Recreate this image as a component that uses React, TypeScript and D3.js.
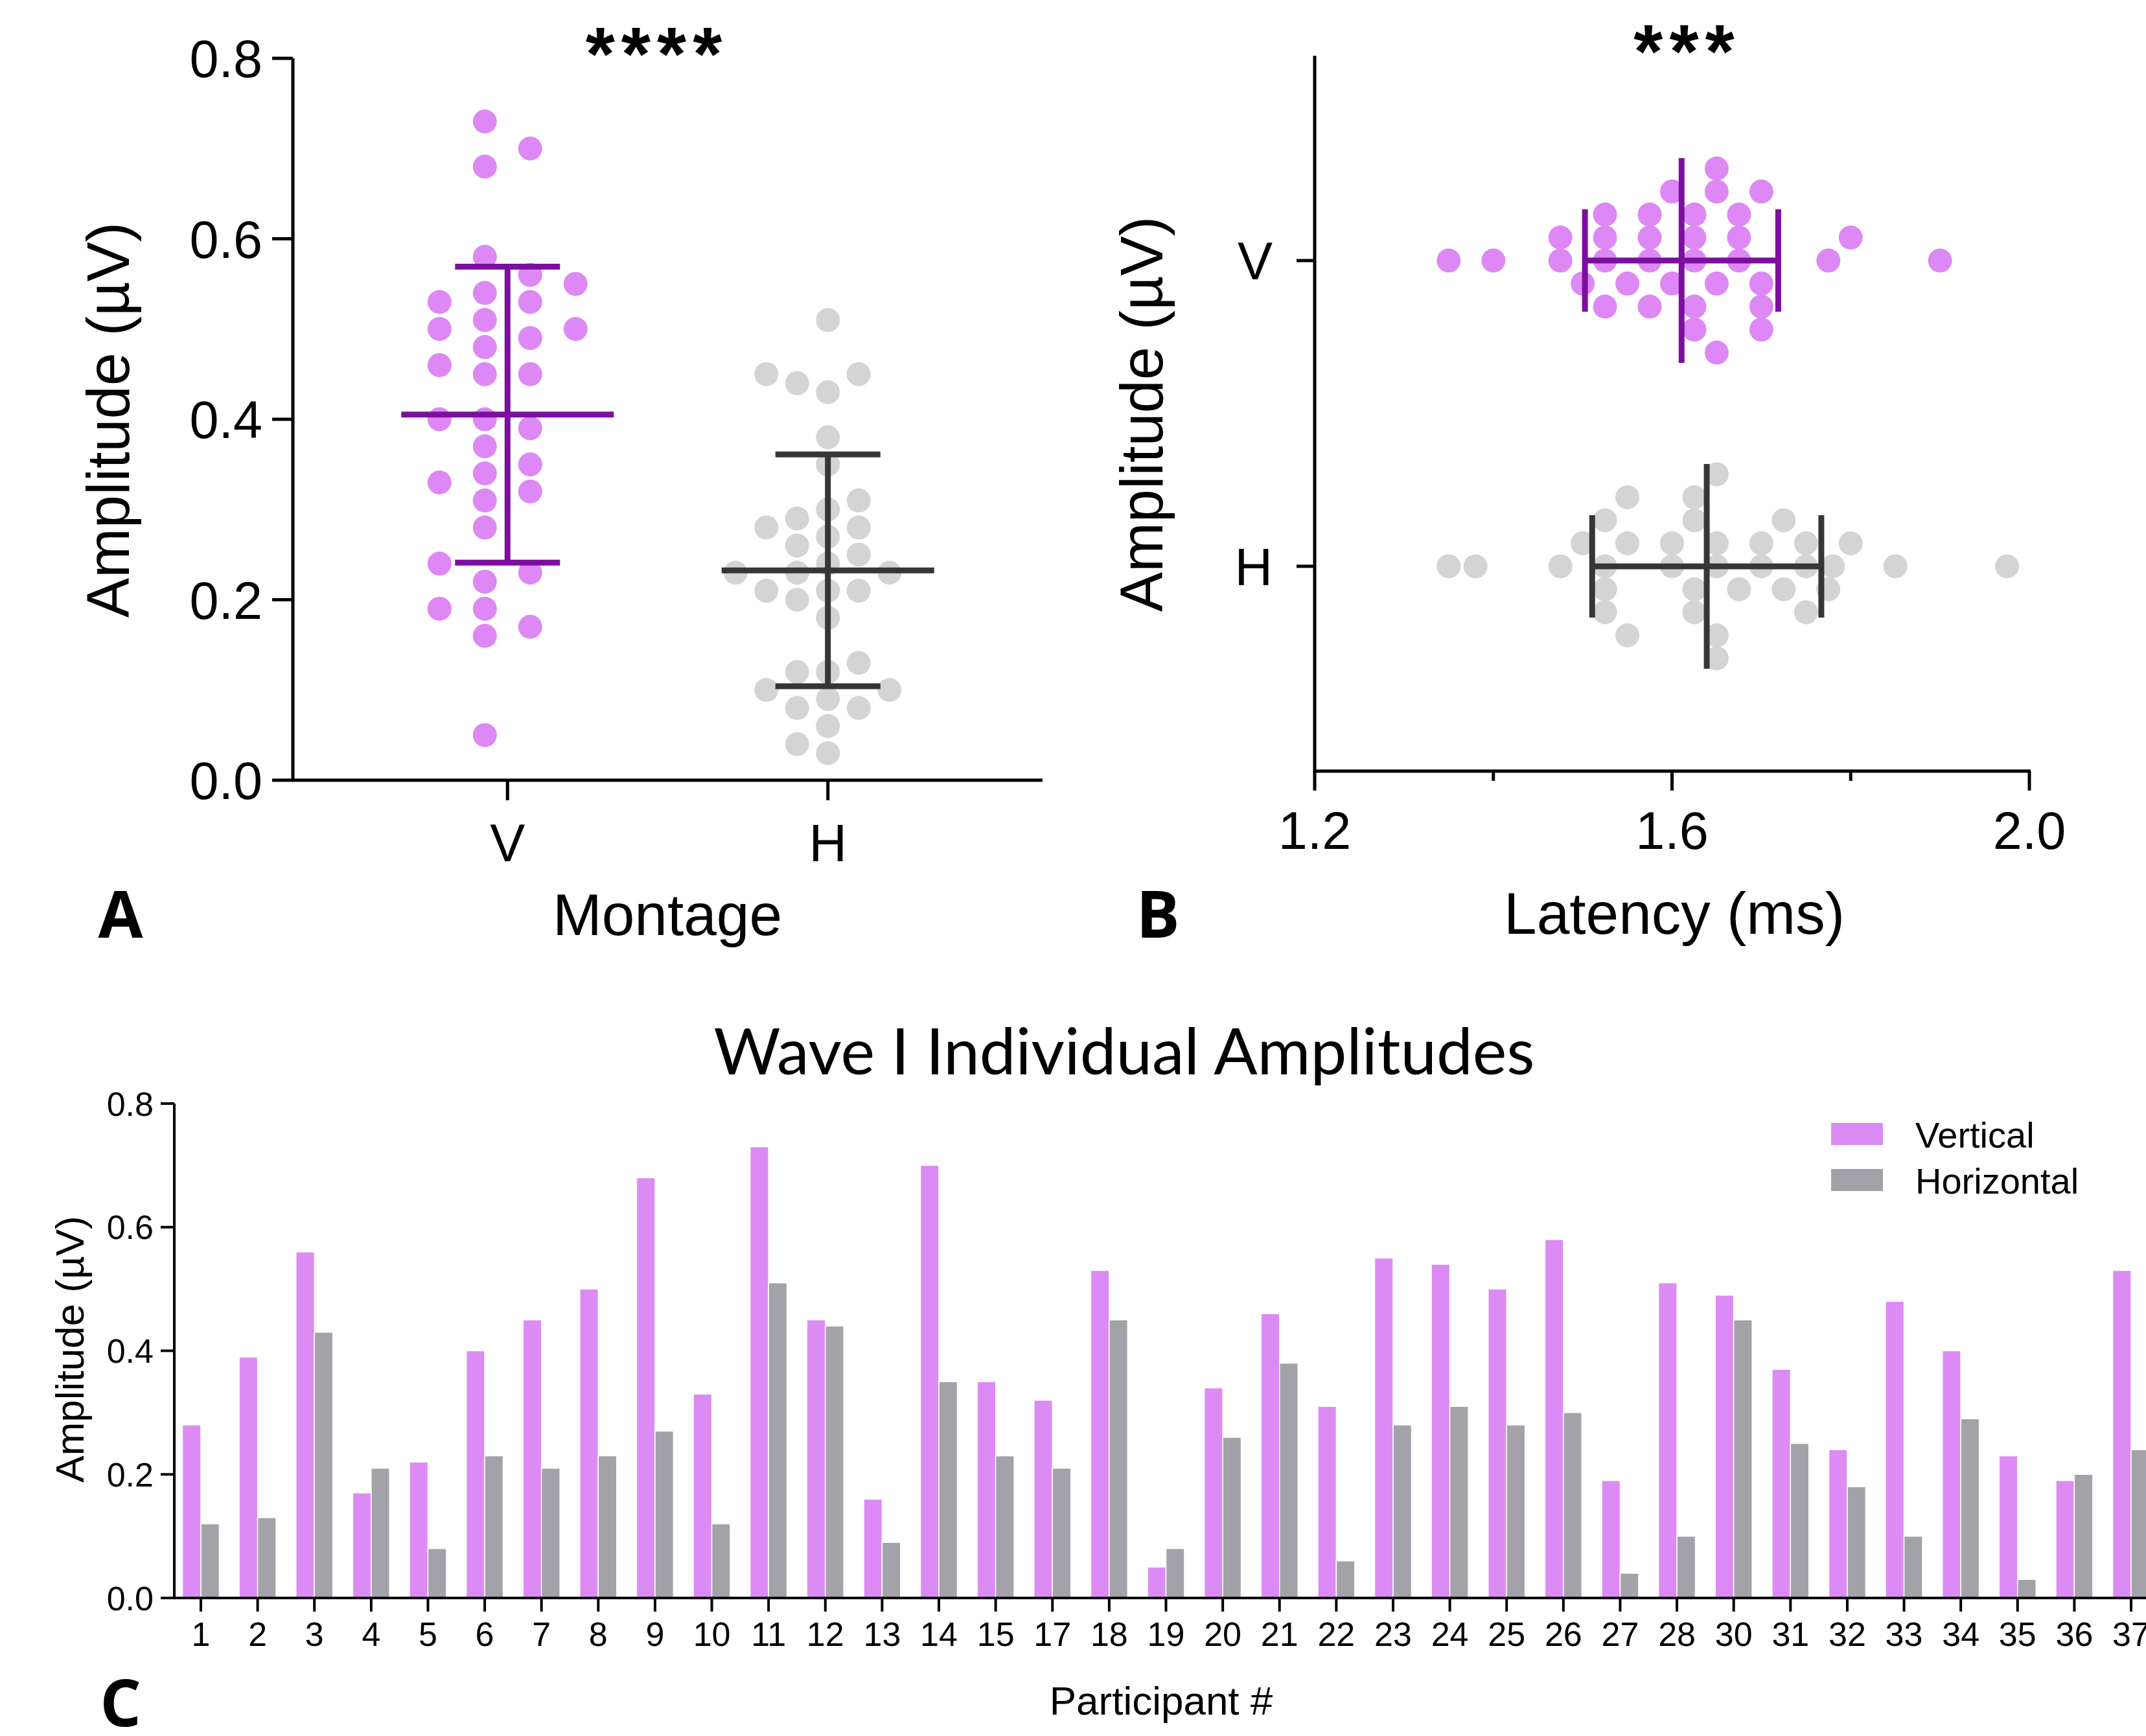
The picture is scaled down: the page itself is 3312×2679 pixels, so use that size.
import React from 'react';
import * as d3 from 'd3';

// Participant numbers (16 and 29 are missing in the source figure)
const participants = [
  '1', '2', '3', '4', '5', '6', '7', '8', '9', '10', '11', '12', '13', '14', '15', '17', '18', '19',
  '20', '21', '22', '23', '24', '25', '26', '27', '28', '30', '31', '32', '33', '34', '35', '36', '37',
];
// Wave I amplitudes (µV) per participant
const ampVertical = [
  0.28, 0.39, 0.56, 0.17, 0.22, 0.4, 0.45, 0.5, 0.68, 0.33, 0.73, 0.45, 0.16, 0.7, 0.35, 0.32, 0.53, 0.05,
  0.34, 0.46, 0.31, 0.55, 0.54, 0.5, 0.58, 0.19, 0.51, 0.49, 0.37, 0.24, 0.48, 0.4, 0.23, 0.19, 0.53,
];
const ampHorizontal = [
  0.12, 0.13, 0.43, 0.21, 0.08, 0.23, 0.21, 0.23, 0.27, 0.12, 0.51, 0.44, 0.09, 0.35, 0.23, 0.21, 0.45, 0.08,
  0.26, 0.38, 0.06, 0.28, 0.31, 0.28, 0.3, 0.04, 0.1, 0.45, 0.25, 0.18, 0.1, 0.29, 0.03, 0.2, 0.24,
];
// Wave I latencies (ms)
const latVertical = [
  1.35, 1.4, 1.475, 1.475, 1.5, 1.525, 1.525, 1.525, 1.525, 1.55, 1.575, 1.575, 1.575, 1.575, 1.6, 1.6,
  1.625, 1.625, 1.625, 1.625, 1.625, 1.65, 1.65, 1.65, 1.65, 1.675, 1.675, 1.675, 1.7, 1.7, 1.7, 1.7,
  1.775, 1.8, 1.9,
];
const latHorizontal = [
  1.35, 1.38, 1.475, 1.5, 1.525, 1.525, 1.525, 1.525, 1.55, 1.55, 1.55, 1.6, 1.6, 1.625, 1.625, 1.625,
  1.625, 1.65, 1.65, 1.65, 1.65, 1.65, 1.675, 1.7, 1.7, 1.725, 1.725, 1.75, 1.75, 1.75, 1.775, 1.78,
  1.8, 1.85, 1.975,
];
const montages = ['V', 'H'];
const ampTicks = [0, 0.2, 0.4, 0.6, 0.8];
const latTicks = [1.2, 1.4, 1.6, 1.8, 2.0];
const latLabels = [1.2, 1.6, 2.0];

const PINK = '#DD88F5';
const PURPLE = '#7B0F9E';
const LIGHT = '#D4D4D4';
const DARK = '#363636';
const BAR_V = '#DC8BF5';
const BAR_H = '#A3A2A8';
const ARIAL = "'Liberation Sans', Arial, sans-serif";
const BOLD = "'Open Sans', sans-serif";
const R = 18.5;

// greedy beeswarm: place each point at the first offset that does not overlap
function swarm(values: number[], pos: (v: number) => number, offsets: number[], minDist: number) {
  const order = values.map((_, i) => i).sort((a, b) => values[a] - values[b]);
  const placed: { p: number; o: number }[] = [];
  const out: { p: number; o: number }[] = new Array(values.length);
  for (const i of order) {
    const p = pos(values[i]);
    for (const o of offsets) {
      if (placed.every((q) => Math.hypot(q.p - p, q.o - o) >= minDist)) {
        placed.push({ p, o });
        out[i] = { p, o };
        break;
      }
    }
  }
  return out;
}

const fmt = d3.format('.1f');

const PanelA = () => {
  const y = d3.scaleLinear().domain([0, 0.8]).range([1204, 90]);
  const x = d3.scalePoint().domain(montages).range([452, 1609]).padding(0.67);
  const groups = [
    { key: 'V', vals: ampVertical, fill: PINK, line: PURPLE,
      lanes: [-0.5, 0.5, -1.5, 1.5, -2.5, 2.5, -3.5, 3.5].map((d) => d * 70) },
    { key: 'H', vals: ampHorizontal, fill: LIGHT, line: DARK,
      lanes: [0, -1, 1, -2, 2, -3, 3, -4, 4].map((d) => d * 47.5) },
  ];
  return (
    <g>
      {groups.map((g) => {
        const cx = x(g.key) as number;
        const pts = swarm(g.vals, y, g.lanes, 37);
        const m = d3.mean(g.vals) as number;
        const sd = d3.deviation(g.vals) as number;
        return (
          <g key={g.key}>
            {pts.map((d, i) => (
              <circle key={i} cx={cx + d.o} cy={d.p} r={R} fill={g.fill} />
            ))}
            <g stroke={g.line} strokeWidth={9}>
              <line x1={cx - 164} x2={cx + 164} y1={y(m)} y2={y(m)} />
              <line x1={cx} x2={cx} y1={y(m + sd)} y2={y(m - sd)} />
              <line x1={cx - 81} x2={cx + 81} y1={y(m + sd)} y2={y(m + sd)} />
              <line x1={cx - 81} x2={cx + 81} y1={y(m - sd)} y2={y(m - sd)} />
            </g>
          </g>
        );
      })}
      <g stroke="#000" strokeWidth={5}>
        <line x1={452} x2={452} y1={90} y2={1206} />
        <line x1={450} x2={1609} y1={1204} y2={1204} />
        {ampTicks.map((t) => (
          <line key={t} x1={420} x2={452} y1={y(t)} y2={y(t)} />
        ))}
        {montages.map((m) => (
          <line key={m} x1={x(m)} x2={x(m)} y1={1204} y2={1235} />
        ))}
      </g>
      <g fontFamily={ARIAL} fontSize={81}>
        {ampTicks.map((t) => (
          <text key={t} x={405} y={y(t)} dy="0.36em" textAnchor="end">{fmt(t)}</text>
        ))}
        {montages.map((m) => (
          <text key={m} x={x(m)} y={1329} textAnchor="middle">{m}</text>
        ))}
      </g>
      <text x={1030} y={1443} textAnchor="middle" fontFamily={ARIAL} fontSize={91}>Montage</text>
      <text transform="translate(199,648) rotate(-90)" textAnchor="middle" fontFamily={ARIAL} fontSize={92}>
        Amplitude (µV)
      </text>
      <text x={1014} y={124} textAnchor="middle" fontFamily={ARIAL} fontWeight={700} fontSize={116} letterSpacing={10}>
        ****
      </text>
      <text x={186} y={1447} textAnchor="middle" fontFamily={BOLD} fontWeight={700} fontSize={100}>A</text>
    </g>
  );
};

const PanelB = () => {
  const x = d3.scaleLinear().domain([1.2, 2.0]).range([2029, 3132]);
  const y = d3.scalePoint().domain(montages).range([86, 1190]).padding(0.67);
  const rows = [0, -1, 1, -2, 2, -3, 3, -4, 4, -5, 5].map((d) => d * 35.5);
  const groups = [
    { key: 'V', vals: latVertical, fill: PINK, line: PURPLE },
    { key: 'H', vals: latHorizontal, fill: LIGHT, line: DARK },
  ];
  return (
    <g>
      {groups.map((g) => {
        const cy = y(g.key) as number;
        const pts = swarm(g.vals, x, rows, 35);
        const m = d3.mean(g.vals) as number;
        const sd = d3.deviation(g.vals) as number;
        return (
          <g key={g.key}>
            {pts.map((d, i) => (
              <circle key={i} cx={d.p} cy={cy + d.o} r={R} fill={g.fill} />
            ))}
            <g stroke={g.line} strokeWidth={9}>
              <line x1={x(m)} x2={x(m)} y1={cy - 158} y2={cy + 158} />
              <line x1={x(m - sd)} x2={x(m + sd)} y1={cy} y2={cy} />
              <line x1={x(m - sd)} x2={x(m - sd)} y1={cy - 79} y2={cy + 79} />
              <line x1={x(m + sd)} x2={x(m + sd)} y1={cy - 79} y2={cy + 79} />
            </g>
          </g>
        );
      })}
      <g stroke="#000" strokeWidth={5}>
        <line x1={2029} x2={2029} y1={86} y2={1192} />
        <line x1={2027} x2={3134} y1={1190} y2={1190} />
        {latTicks.map((t) => (
          <line key={t} x1={x(t)} x2={x(t)} y1={1190} y2={latLabels.includes(t) ? 1220 : 1205} />
        ))}
        {montages.map((m) => (
          <line key={m} x1={2001} x2={2029} y1={y(m)} y2={y(m)} />
        ))}
      </g>
      <g fontFamily={ARIAL} fontSize={81}>
        {latLabels.map((t) => (
          <text key={t} x={x(t)} y={1310} textAnchor="middle">{fmt(t)}</text>
        ))}
        {montages.map((m) => (
          <text key={m} x={1964} y={y(m)} dy="0.36em" textAnchor="end">{m}</text>
        ))}
      </g>
      <text x={2584} y={1441} textAnchor="middle" fontFamily={ARIAL} fontSize={91}>Latency (ms)</text>
      <text transform="translate(1794,639) rotate(-90)" textAnchor="middle" fontFamily={ARIAL} fontSize={92}>
        Amplitude (µV)
      </text>
      <text x={2604} y={120} textAnchor="middle" fontFamily={ARIAL} fontWeight={700} fontSize={116} letterSpacing={10}>
        ***
      </text>
      <text x={1787} y={1447} textAnchor="middle" fontFamily={BOLD} fontWeight={700} fontSize={100}>B</text>
    </g>
  );
};

const PanelC = () => {
  const y = d3.scaleLinear().domain([0, 0.8]).range([2466, 1703]);
  const x = d3.scaleBand().domain(participants).range([269, 3330]).paddingInner(0.35).paddingOuter(0.1427);
  const bw = x.bandwidth() / 2;
  return (
    <g>
      <text x={1735} y={1658} textAnchor="middle" fontFamily="Lato, sans-serif" fontSize={98}
        textLength={1267} lengthAdjust="spacingAndGlyphs">
        Wave I Individual Amplitudes
      </text>
      {participants.map((p, i) => (
        <g key={p} stroke="#fff" strokeWidth={1.5}>
          <rect x={x(p)} y={y(ampVertical[i])} width={bw} height={y(0) - y(ampVertical[i])} fill={BAR_V} />
          <rect x={(x(p) as number) + bw} y={y(ampHorizontal[i])} width={bw}
            height={y(0) - y(ampHorizontal[i])} fill={BAR_H} />
        </g>
      ))}
      <g stroke="#000" strokeWidth={4}>
        <line x1={269} x2={269} y1={1703} y2={2468} />
        <line x1={248} x2={3312} y1={2466} y2={2466} />
        {ampTicks.map((t) => (
          <line key={t} x1={248} x2={269} y1={y(t)} y2={y(t)} />
        ))}
        {participants.map((p) => {
          const c = (x(p) as number) + x.bandwidth() / 2;
          return <line key={p} x1={c} x2={c} y1={2466} y2={2487} />;
        })}
      </g>
      <g fontFamily={ARIAL} fontSize={52}>
        {ampTicks.map((t) => (
          <text key={t} x={237} y={y(t)} dy="0.36em" textAnchor="end">{fmt(t)}</text>
        ))}
        {participants.map((p) => (
          <text key={p} x={(x(p) as number) + x.bandwidth() / 2} y={2540} textAnchor="middle">{p}</text>
        ))}
      </g>
      <text x={1792} y={2646} textAnchor="middle" fontFamily={ARIAL} fontSize={62}>Participant #</text>
      <text transform="translate(129,2082) rotate(-90)" textAnchor="middle" fontFamily={ARIAL} fontSize={62}>
        Amplitude (µV)
      </text>
      <g fontFamily={ARIAL} fontSize={56}>
        <rect x={2826} y={1733} width={80} height={34} fill={BAR_V} />
        <text x={2956} y={1771}>Vertical</text>
        <rect x={2826} y={1804} width={80} height={34} fill={BAR_H} />
        <text x={2956} y={1842}>Horizontal</text>
      </g>
      <text x={186} y={2664} textAnchor="middle" fontFamily={BOLD} fontWeight={700} fontSize={100}>C</text>
    </g>
  );
};

export default function App() {
  return (
    <div style={{ position: 'absolute', left: 0, top: 0, background: '#fff' }}>
      <svg width={3312} height={2679} style={{ display: 'block' }}>
        <rect width={3312} height={2679} fill="#fff" />
        <PanelA />
        <PanelB />
        <PanelC />
      </svg>
    </div>
  );
}
